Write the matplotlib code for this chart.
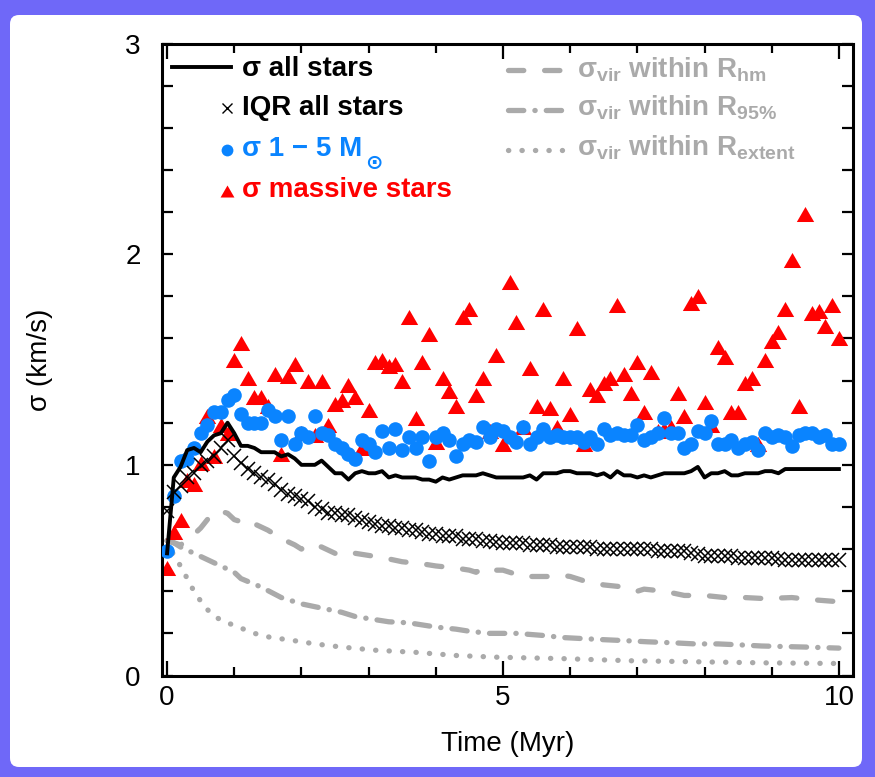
import numpy as np
import matplotlib
matplotlib.use("Agg")
import matplotlib.pyplot as plt
from matplotlib.patches import FancyBboxPatch
from matplotlib.transforms import IdentityTransform
from matplotlib.ticker import FixedLocator, MultipleLocator

plt.rcParams["font.family"] = ["Liberation Sans", "DejaVu Sans"]
plt.rcParams["mathtext.fontset"] = "custom"
plt.rcParams["mathtext.rm"] = "Liberation Sans"
plt.rcParams["mathtext.bf"] = "Liberation Sans:bold"
plt.rcParams["mathtext.it"] = "Liberation Sans:italic"
plt.rcParams["lines.scale_dashes"] = False

# ---------------------------------------------------------------- data
time_myr = np.linspace(0.0, 10.0, 101)

sigma_all = [
    0.58, 0.94, 0.99, 1.07, 1.08, 1.06, 1.11, 1.14, 1.15, 1.20,
    1.15, 1.09, 1.09, 1.08, 1.06, 1.06, 1.06, 1.04, 1.05, 1.03,
    1.00, 1.00, 1.00, 1.02, 0.99, 0.96, 0.96, 0.93, 0.96, 0.97,
    0.96, 0.96, 0.97, 0.94, 0.95, 0.94, 0.94, 0.94, 0.93, 0.93,
    0.92, 0.94, 0.93, 0.94, 0.95, 0.95, 0.95, 0.96, 0.95, 0.94,
    0.94, 0.94, 0.94, 0.94, 0.95, 0.93, 0.96, 0.96, 0.96, 0.97,
    0.97, 0.96, 0.96, 0.96, 0.95, 0.96, 0.94, 0.97, 0.95, 0.95,
    0.94, 0.95, 0.94, 0.95, 0.96, 0.96, 0.96, 0.96, 0.97, 0.99,
    0.94, 0.96, 0.96, 0.97, 0.95, 0.95, 0.96, 0.96, 0.96, 0.97,
    0.97, 0.96, 0.98, 0.98, 0.98, 0.98, 0.98, 0.98, 0.98, 0.98, 0.98,
]

iqr_all = [
    0.78, 0.87, 0.90, 0.94, 0.96, 1.00, 1.02, 1.04, 1.08, 1.12,
    1.04, 1.01, 0.98, 0.96, 0.94, 0.93, 0.91, 0.88, 0.86, 0.85,
    0.84, 0.83, 0.80, 0.79, 0.77, 0.77, 0.76, 0.76, 0.75, 0.74,
    0.73, 0.72, 0.71, 0.71, 0.70, 0.70, 0.69, 0.69, 0.68, 0.67,
    0.67, 0.66, 0.66, 0.66, 0.65, 0.65, 0.65, 0.64, 0.64, 0.635,
    0.63, 0.63, 0.63, 0.63, 0.62, 0.62, 0.62, 0.62, 0.61, 0.61,
    0.61, 0.61, 0.61, 0.61, 0.60, 0.60, 0.60, 0.60, 0.60, 0.60,
    0.60, 0.60, 0.60, 0.59, 0.59, 0.59, 0.59, 0.59, 0.58, 0.575,
    0.565, 0.565, 0.565, 0.565, 0.565, 0.56, 0.56, 0.56, 0.56, 0.56,
    0.56, 0.555, 0.55, 0.55, 0.55, 0.55, 0.55, 0.55, 0.55, 0.55, 0.55,
]

sigma_1_5 = [
    0.59, 0.85, 1.02, 1.03, 1.08, 1.15, 1.19, 1.25, 1.25, 1.31,
    1.33, 1.24, 1.20, 1.20, 1.20, 1.26, 1.23, 1.12, 1.23, 1.10,
    1.15, 1.13, 1.23, 1.15, 1.14, 1.10, 1.08, 1.05, 1.03, 1.12,
    1.10, 1.06, 1.16, 1.08, 1.17, 1.07, 1.13, 1.08, 1.13, 1.02,
    1.13, 1.15, 1.12, 1.04, 1.10, 1.12, 1.11, 1.18, 1.13, 1.17,
    1.16, 1.13, 1.11, 1.18, 1.10, 1.13, 1.17, 1.13, 1.14, 1.13,
    1.13, 1.13, 1.11, 1.13, 1.10, 1.17, 1.14, 1.15, 1.14, 1.14,
    1.19, 1.12, 1.13, 1.15, 1.22, 1.15, 1.15, 1.08, 1.10, 1.16,
    1.15, 1.21, 1.10, 1.10, 1.12, 1.08, 1.10, 1.11, 1.07, 1.15,
    1.13, 1.14, 1.13, 1.09, 1.14, 1.15, 1.15, 1.13, 1.14, 1.10, 1.10,
]

sigma_massive = [
    0.51, 0.68, 0.74, 0.93, 0.91, 1.01, 1.23, 1.04, 1.19, 1.15,
    1.50, 1.58, 1.41, 1.32, 1.32, 1.28, 1.43, 1.05, 1.42, 1.48,
    1.15, 1.40, 1.14, 1.40, 1.19, 1.29, 1.31, 1.38, 1.32, 1.08,
    1.26, 1.49, 1.50, 1.47, 1.48, 1.40, 1.70, 1.22, 1.49, 1.62,
    1.11, 1.41, 1.35, 1.28, 1.70, 1.74, 1.33, 1.41, 1.16, 1.52,
    1.10, 1.87, 1.68, 1.18, 1.46, 1.28, 1.74, 1.27, 1.18, 1.41,
    1.24, 1.65, 1.10, 1.36, 1.33, 1.39, 1.41, 1.76, 1.43, 1.34,
    1.49, 1.25, 1.44, 1.16, 1.17, 1.18, 1.34, 1.23, 1.77, 1.80,
    1.30, 1.19, 1.56, 1.51, 1.25, 1.25, 1.39, 1.41, 1.10, 1.50,
    1.59, 1.63, 1.74, 1.97, 1.28, 2.19, 1.72, 1.73, 1.66, 1.76, 1.60,
]

# virial estimates (sampled less densely, they are smooth)
t_hm = [0.0, 0.1, 0.2, 0.3, 0.4, 0.5, 0.6, 0.7, 0.8, 0.9, 1.0, 1.1, 1.2,
        1.3, 1.5, 1.7, 1.9, 2.0, 2.1, 2.2, 2.3, 2.5, 2.6, 2.8, 3.0, 3.2,
        3.5, 3.8, 4.0, 4.3, 4.5, 4.6, 4.7, 4.8, 5.0, 5.3, 5.6, 5.8, 5.9,
        6.0, 6.2, 6.5, 6.8, 7.0, 7.1, 7.4, 7.7, 8.0, 8.3, 8.6, 8.9, 9.3,
        9.6, 10.0]
vir_hm = [0.64, 0.63, 0.62, 0.64, 0.67, 0.70, 0.74, 0.77, 0.78, 0.77, 0.74,
          0.73, 0.74, 0.72, 0.69, 0.65, 0.62, 0.60, 0.62, 0.62, 0.61, 0.58,
          0.57, 0.58, 0.57, 0.56, 0.54, 0.53, 0.52, 0.51, 0.50, 0.49, 0.51,
          0.50, 0.50, 0.47, 0.47, 0.47, 0.475, 0.47, 0.45, 0.43, 0.42, 0.40,
          0.41, 0.40, 0.38, 0.38, 0.37, 0.37, 0.365, 0.37, 0.36, 0.35]

t_95 = [0.0, 0.1, 0.2, 0.4, 0.6, 0.8, 1.0, 1.1, 1.4, 1.7, 2.0, 2.3, 2.6,
        2.8, 3.0, 3.3, 3.6, 4.0, 4.3, 4.5, 4.8, 5.2, 5.6, 5.9, 6.2, 6.5,
        6.85, 7.15, 7.55, 7.85, 8.2, 8.55, 8.85, 9.5, 10.0]
vir_95 = [0.64, 0.63, 0.61, 0.58, 0.55, 0.52, 0.49, 0.46, 0.42, 0.37,
          0.34, 0.32, 0.30, 0.28, 0.27, 0.255, 0.25, 0.23, 0.22, 0.21,
          0.20, 0.20, 0.19, 0.18, 0.175, 0.17, 0.165, 0.16, 0.155, 0.15,
          0.15, 0.145, 0.14, 0.135, 0.13]

t_ext = [0.0, 0.1, 0.2, 0.3, 0.4, 0.55, 0.7, 0.9, 1.1, 1.3, 1.55, 1.8,
         2.2, 2.6, 3.1, 3.7, 4.3, 4.9, 5.9, 6.9, 7.9, 8.9, 10.0]
vir_ext = [0.64, 0.57, 0.52, 0.46, 0.40, 0.33, 0.28, 0.25, 0.225, 0.20,
           0.18, 0.17, 0.15, 0.135, 0.12, 0.11, 0.095, 0.087, 0.08, 0.07,
           0.065, 0.06, 0.057]

x_major_ticks = [0, 5, 10]
y_major_ticks = [0, 1, 2, 3]

# ---------------------------------------------------------------- style
FRAME = "#6f68f8"
BLUE = "#0a84ff"
RED = "#ff0000"
GRAY = "#aaaaaa"
TRIANGLE = [(-1.0, -0.866), (1.0, -0.866), (0.0, 0.866)]
MS_TRI, MS_DOT, MS_X = 12.5, 10.5, 9.5

W, H = 875, 777
fig = plt.figure(figsize=(W / 100, H / 100), dpi=100)
fig.patch.set_facecolor(FRAME)
fig.add_artist(FancyBboxPatch((10, 10), 852, 752,
                              boxstyle="round,pad=0,rounding_size=9",
                              transform=IdentityTransform(),
                              facecolor="white", edgecolor="none",
                              zorder=-10))

AX_L, AX_R, AX_T, AX_B = 161.7, 853.0, 43.5, 675.5
ax = fig.add_axes([AX_L / W, 1 - AX_B / H, (AX_R - AX_L) / W, (AX_B - AX_T) / H])
ax.set_zorder(1)
ax.set_facecolor("white")
ax.set_xlim(-0.08, 10.21)
ax.set_ylim(0, 3)


def apos(px, py):
    """Pixel position inside the panel -> axes fraction."""
    return (px - AX_L) / (AX_R - AX_L), (AX_B - py) / (AX_B - AX_T)


LW_GRAY = 3.8
ls_hm = (0, (11, 15))
ls_95 = (0, (11, 8, 0.2, 8))
ls_ext = (0, (0.2, 9.5))

ax.plot(t_hm, vir_hm, color=GRAY, lw=LW_GRAY, ls=ls_hm,
        dash_capstyle="round", zorder=1)
ax.plot(t_95, vir_95, color=GRAY, lw=LW_GRAY, ls=ls_95,
        dash_capstyle="round", zorder=1)
ax.plot(t_ext, vir_ext, color=GRAY, lw=LW_GRAY, ls=ls_ext,
        dash_capstyle="round", zorder=1)

ax.plot(time_myr, sigma_massive, ls="none", marker=TRIANGLE, ms=MS_TRI,
        color=RED, mec="none", zorder=2)
ax.plot(time_myr, sigma_1_5, ls="none", marker="o", ms=MS_DOT,
        color=BLUE, mec="none", zorder=3)
ax.plot(time_myr, iqr_all, ls="none", marker="x", ms=MS_X, mew=1.1,
        color="black", zorder=4)
ax.plot(time_myr, sigma_all, color="black", lw=2.8, zorder=5)

# axes frame and ticks
for sp in ax.spines.values():
    sp.set_linewidth(2.2)
ax.xaxis.set_major_locator(FixedLocator(x_major_ticks))
ax.xaxis.set_minor_locator(MultipleLocator(1))
ax.yaxis.set_major_locator(FixedLocator(y_major_ticks))
ax.yaxis.set_minor_locator(MultipleLocator(0.2))
ax.tick_params(which="both", direction="in", top=True, right=True,
               width=1.6, labelsize=20)
ax.tick_params(axis="x", which="major", length=11, pad=7)
ax.tick_params(axis="x", which="minor", length=6.5)
ax.tick_params(axis="y", which="both", length=8, pad=15)

ax.set_xlabel("Time (Myr)", fontsize=20)
ax.xaxis.set_label_coords(0.5, -0.088)
ax.set_ylabel("σ (km/s)", fontsize=20)
ax.yaxis.label.set_va("center")
ax.yaxis.set_label_coords(-0.176, 0.5)

# key, left column
kw = dict(transform=ax.transAxes, clip_on=False, zorder=6)
ax.plot(*zip(apos(172, 66.5), apos(231, 66.5)), color="black", lw=2.8, **kw)
ax.plot(*apos(227, 108), marker="x", ms=7.5, mew=1.0, color="black", **kw)
ax.plot(*apos(227, 150), marker="o", ms=8.5, color=BLUE, mec="none", **kw)
ax.plot(*apos(227, 190.5), marker=TRIANGLE, ms=10, color=RED, mec="none", **kw)

tkw = dict(transform=ax.transAxes, fontsize=20, fontweight="bold",
           ha="left", va="baseline", zorder=6)
ax.text(*apos(242, 75.5), "σ all stars", color="black", **tkw)
ax.text(*apos(242, 115), "IQR all stars", color="black", **tkw)
msun = ax.text(*apos(242, 156.5), "σ 1 − 5 M", color=BLUE, **tkw)
ax.annotate("⊙", xy=(1.0, 0.0), xycoords=msun, xytext=(2, -5),
            textcoords="offset points", ha="left", va="baseline",
            fontsize=15, fontweight="bold", family="DejaVu Sans",
            color=BLUE, zorder=6)
ax.text(*apos(242, 197), "σ massive stars", color=RED, **tkw)

# key, right column
for py, ls in [(69.5, ls_hm), (109.5, ls_95), (149.5, ls_ext)]:
    ax.plot(*zip(apos(508, py), apos(562, py)), color=GRAY, lw=LW_GRAY,
            ls=ls, dash_capstyle="round", **kw)
ax.text(*apos(577, 77), "σ$_{\\mathbf{vir}}$ within R$_{\\mathbf{hm}}$",
        color=GRAY, **tkw)
ax.text(*apos(577, 116), "σ$_{\\mathbf{vir}}$ within R$_{\\mathbf{95\\%}}$",
        color=GRAY, **tkw)
ax.text(*apos(577, 155.5), "σ$_{\\mathbf{vir}}$ within R$_{\\mathbf{extent}}$",
        color=GRAY, **tkw)

fig.savefig("out.png", dpi=100, facecolor=fig.get_facecolor())
